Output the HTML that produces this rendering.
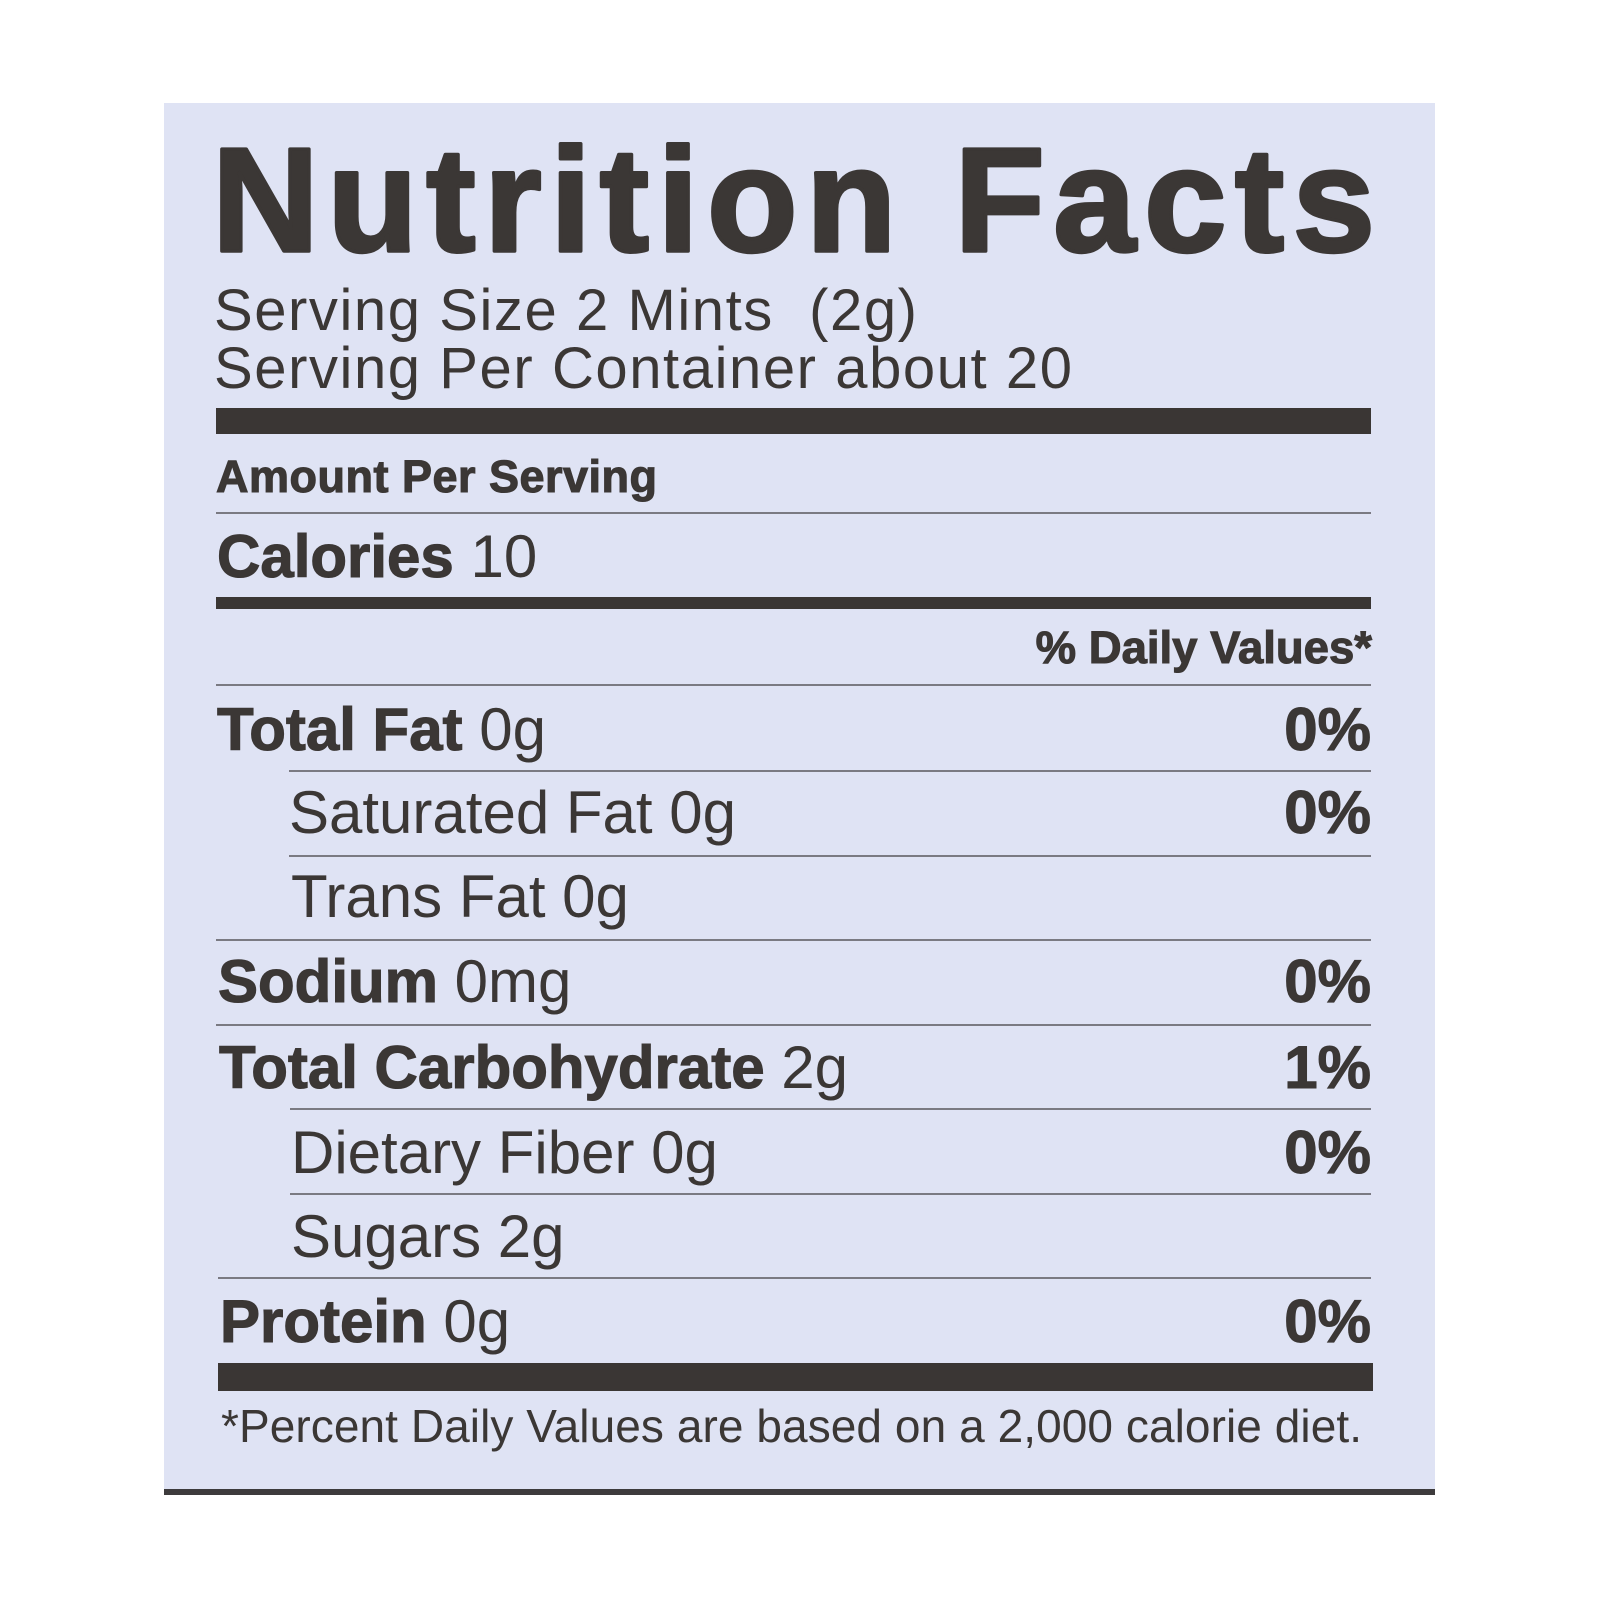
<!DOCTYPE html>
<html>
<head>
<meta charset="utf-8">
<style>
html,body{margin:0;padding:0;background:#ffffff;}
body{width:1600px;height:1600px;overflow:hidden;}
svg{display:block;}
text{font-family:"Liberation Sans",Arial,sans-serif;fill:#3b3735;white-space:pre;}
.b{font-weight:bold;stroke:#3b3735;stroke-width:1.1px;}
.t{font-weight:bold;stroke:#3b3735;stroke-width:3.5px;stroke-linejoin:round;}
</style>
</head>
<body>
<svg width="1600" height="1600" viewBox="0 0 1600 1600" xmlns="http://www.w3.org/2000/svg">
  <rect x="0" y="0" width="1600" height="1600" fill="#ffffff"/>
  <!-- panel -->
  <rect x="164" y="103" width="1271" height="1390" fill="#dfe3f4"/>
  <rect x="164" y="1489" width="1271" height="6" fill="#3d3b3c"/>

  <!-- title -->
  <text class="t" x="212" y="251" font-size="148" textLength="1163" lengthAdjust="spacing">Nutrition Facts</text>

  <text x="214" y="330" font-size="58" textLength="703" lengthAdjust="spacing">Serving Size 2 Mints  (2g)</text>
  <text x="214" y="388" font-size="58" textLength="858" lengthAdjust="spacing">Serving Per Container about 20</text>

  <rect x="216" y="408" width="1155" height="26" fill="#3a3634"/>

  <text class="b" x="216" y="492" font-size="45" textLength="441" lengthAdjust="spacing">Amount Per Serving</text>
  <rect x="216" y="512" width="1155" height="2" fill="#7a7a82"/>

  <text x="217" y="577" font-size="60"><tspan class="b">Calories</tspan> 10</text>

  <rect x="216" y="597" width="1155" height="12" fill="#3a3634"/>

  <text class="b" x="1372" y="663" font-size="45.5" text-anchor="end">% Daily Values*</text>
  <rect x="216" y="684" width="1155" height="2" fill="#7a7a82"/>

  <!-- rows -->
  <text x="217" y="750" font-size="60"><tspan class="b">Total Fat</tspan> 0g</text>
  <text class="b" x="1371" y="750" font-size="60" text-anchor="end">0%</text>
  <rect x="289" y="770" width="1082" height="2" fill="#7a7a82"/>

  <text x="289" y="833" font-size="60">Saturated Fat 0g</text>
  <text class="b" x="1371" y="833" font-size="60" text-anchor="end">0%</text>
  <rect x="289" y="855" width="1082" height="2" fill="#7a7a82"/>

  <text x="291" y="917" font-size="60">Trans Fat 0g</text>
  <rect x="216" y="939" width="1155" height="2" fill="#7a7a82"/>

  <text x="218" y="1002" font-size="60"><tspan class="b">Sodium</tspan> 0mg</text>
  <text class="b" x="1371" y="1002" font-size="60" text-anchor="end">0%</text>
  <rect x="216" y="1024" width="1155" height="2" fill="#7a7a82"/>

  <text x="219" y="1088" font-size="60"><tspan class="b">Total Carbohydrate</tspan> 2g</text>
  <text class="b" x="1371" y="1088" font-size="60" text-anchor="end">1%</text>
  <rect x="290" y="1108" width="1081" height="2" fill="#7a7a82"/>

  <text x="291" y="1173" font-size="60">Dietary Fiber 0g</text>
  <text class="b" x="1371" y="1173" font-size="60" text-anchor="end">0%</text>
  <rect x="290" y="1193" width="1081" height="2" fill="#7a7a82"/>

  <text x="291" y="1257" font-size="60">Sugars 2g</text>
  <rect x="218" y="1277" width="1153" height="2" fill="#7a7a82"/>

  <text x="220" y="1342" font-size="60"><tspan class="b">Protein</tspan> 0g</text>
  <text class="b" x="1371" y="1342" font-size="60" text-anchor="end">0%</text>

  <rect x="218" y="1363" width="1155" height="28" fill="#3a3634"/>

  <text x="221" y="1442" font-size="46" textLength="1141" lengthAdjust="spacing">*Percent Daily Values are based on a 2,000 calorie diet.</text>
</svg>
</body>
</html>
